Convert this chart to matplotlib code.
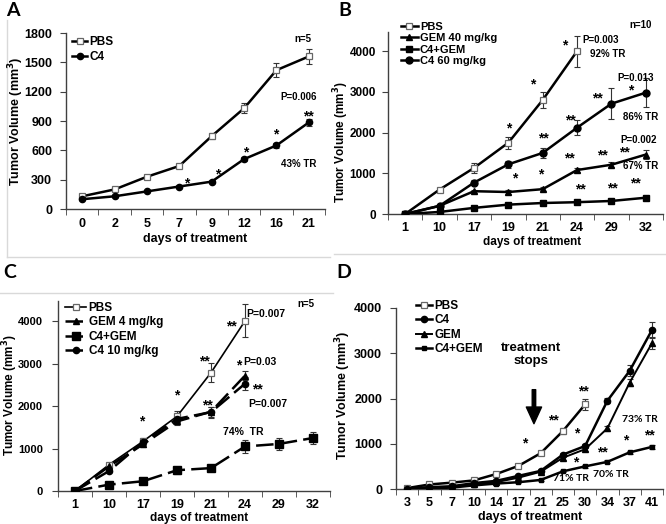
import matplotlib
matplotlib.use('Agg')
import matplotlib.pyplot as plt
from matplotlib.lines import Line2D
import numpy as np

plt.rcParams['font.family'] = ['Liberation Sans', 'DejaVu Sans']
plt.rcParams['font.weight'] = 'bold'
plt.rcParams['axes.labelweight'] = 'bold'

# ---------------- data ----------------
A_days = ['0', '2', '5', '7', '9', '12', '16', '21']
A_pbs = [130, 200, 330, 440, 745, 1030, 1420, 1560]
A_pbs_err = [20, 20, 20, 20, 30, 50, 70, 80]
A_c4 = [100, 130, 180, 230, 280, 510, 650, 885]
A_c4_err = [10, 10, 10, 15, 15, 20, 25, 40]

B_days = ['1', '10', '17', '19', '21', '24', '29', '32']
B_pbs = [0, 600, 1130, 1750, 2800, 4000]
B_pbs_err = [0, 40, 120, 150, 200, 380]
B_gem = [0, 200, 560, 540, 610, 1080, 1210, 1460]
B_gem_err = [0, 20, 40, 40, 50, 60, 60, 100]
B_combo = [0, 50, 150, 230, 270, 290, 320, 400]
B_combo_err = [0, 10, 15, 20, 20, 20, 25, 30]
B_c4 = [0, 200, 770, 1220, 1500, 2120, 2710, 2980]
B_c4_err = [0, 30, 60, 80, 130, 180, 380, 350]

C_days = ['1', '10', '17', '19', '21', '24', '29', '32']
C_pbs = [0, 620, 1170, 1760, 2790, 4010]
C_pbs_err = [0, 40, 80, 130, 220, 390]
C_gem = [0, 580, 1100, 1640, 1870, 2720]
C_gem_err = [0, 30, 60, 80, 120, 100]
C_combo = [0, 150, 230, 490, 540, 1050, 1110, 1250]
C_combo_err = [0, 20, 30, 80, 40, 150, 150, 150]
C_c4 = [0, 470, 1150, 1700, 1860, 2530]
C_c4_err = [0, 30, 60, 80, 130, 150]

D_days = ['3', '5', '7', '10', '14', '17', '21', '25', '30', '34', '37', '41']
D_pbs = [20, 100, 140, 190, 330, 510, 790, 1280, 1870]
D_pbs_err = [10, 10, 10, 20, 30, 30, 40, 60, 120]
D_c4 = [10, 40, 60, 130, 180, 290, 400, 760, 950, 1950, 2610, 3510]
D_c4_err = [5, 10, 10, 20, 20, 30, 40, 40, 50, 60, 120, 170]
D_gem = [10, 30, 50, 100, 150, 250, 380, 690, 880, 1340, 2350, 3220]
D_gem_err = [5, 10, 10, 20, 20, 30, 40, 40, 50, 60, 80, 130]
D_combo = [0, 20, 30, 80, 120, 150, 200, 390, 500, 600, 810, 930]
D_combo_err = [0, 5, 5, 10, 10, 15, 20, 20, 30, 30, 40, 50]

# annotations (x index, y value, text, size)
A_notes = [(6.82, 1739, 'n=5', 7), (6.7, 1145, 'P=0.006', 7), (6.7, 460, '43% TR', 7),
           (6.98, 950, '**', 10), (5.99, 765, '*', 10), (5.06, 580, '*', 10),
           (4.2, 355, '*', 10), (3.24, 265, '*', 10)]
B_notes = [(6.86, 4638, 'n=10', 7), (5.69, 4270, 'P=0.003', 7), (5.9, 3926, '92% TR', 7),
           (6.69, 3337, 'P=0.013', 7), (6.86, 2380, '86% TR', 7), (6.8, 1810, 'P=0.002', 7),
           (6.86, 1178, '67% TR', 7),
           (4.63, 4140, '*', 10), (3.72, 3180, '*', 10), (3.02, 2100, '*', 10),
           (6.57, 3030, '*', 10), (5.6, 2840, '**', 10), (4.81, 2300, '**', 10),
           (4.02, 1860, '**', 10), (6.38, 1510, '**', 10), (5.75, 1440, '**', 10),
           (4.78, 1370, '**', 10), (3.93, 970, '*', 10), (3.2, 870, '*', 10),
           (6.69, 755, '**', 10), (6.04, 630, '**', 10), (5.1, 605, '**', 10)]
C_notes = [(6.8, 4410, 'n=5', 7), (5.6, 4175, 'P=0.007', 7.5), (5.45, 3040, 'P=0.03', 7.5),
           (5.66, 2050, 'P=0.007', 7.5), (4.96, 1390, '74%  TR', 7.5),
           (4.6, 3880, '**', 10), (3.81, 3060, '**', 10), (2.99, 2250, '*', 10),
           (1.96, 1640, '*', 10), (4.81, 2960, '*', 10), (5.36, 2400, '**', 10),
           (3.9, 2020, '**', 10)]
D_notes = [(7.92, 2160, '**', 10), (6.56, 1520, '**', 10), (5.29, 1010, '*', 10),
           (7.6, 1230, '*', 10), (7.56, 590, '*', 10), (8.78, 815, '**', 10),
           (9.82, 1080, '*', 10), (10.9, 1190, '**', 10)]
D_tr = [(10.45, 1531, '73% TR'), (7.38, 227, '71% TR'), (9.14, 316, '70% TR')]

W, H = 666, 524
fig = plt.figure(figsize=(W / 100, H / 100), dpi=100)
fig.patch.set_facecolor('white')

AX = '#404040'


def make_axes(l, r, t, b):
    return fig.add_axes([l / W, 1 - b / H, (r - l) / W, (b - t) / H])


def ftext(x, y, s, **kw):
    fig.text(x / W, 1 - y / H, s, ha='center', va='center', **kw)


def style(ax, cats, ylim, yticks, ypad, xpad, xlab, ylab, ysize=9, xlsize=9, ylsize=9):
    n = len(cats)
    ax.set_xlim(-0.5, n - 0.5)
    ax.set_ylim(*ylim)
    ax.set_yticks(yticks)
    ax.set_xticks(range(n))
    ax.set_xticklabels(cats)
    ax.set_xticks(np.arange(n + 1) - 0.5, minor=True)
    ax.tick_params(axis='x', which='major', length=0, pad=xpad, labelsize=9)
    ax.tick_params(axis='x', which='minor', length=4, direction='out', color=AX)
    ax.tick_params(axis='y', which='major', length=4, direction='out', color=AX,
                   pad=ypad, labelsize=ysize)
    for s in ['top', 'right']:
        ax.spines[s].set_visible(False)
    for s in ['left', 'bottom']:
        ax.spines[s].set_color(AX)
        ax.spines[s].set_linewidth(1)
    ax.set_facecolor('none')
    ftext(xlab[0], xlab[1], 'days of treatment', fontsize=xlsize, fontweight='bold')
    ftext(ylab[0], ylab[1], 'Tumor Volume (mm$^\\mathbf{3}$)', fontsize=ylsize,
          fontweight='bold', rotation=90)


def series(ax, y, err, **kw):
    x = np.arange(len(y))
    ax.errorbar(x, y, yerr=err, fmt='none', ecolor='#333333', elinewidth=0.8,
                capsize=2.5, capthick=0.8, zorder=2)
    ax.plot(x, y, zorder=3, **kw)


def notes(ax, items):
    for x, y, s, fs in items:
        ax.text(x, y, s, ha='center', va='center', fontsize=fs, fontweight='bold')


def legend(ax, x_px, y_px, fs, hl, ls):
    ax.legend(loc='upper left', bbox_to_anchor=(x_px / W, 1 - y_px / H),
              bbox_transform=fig.transFigure, frameon=False,
              handlelength=hl, handletextpad=0.2, labelspacing=ls,
              borderpad=0, borderaxespad=0, numpoints=1,
              prop={'weight': 'bold', 'size': fs})


PBS_KW = dict(color='black', lw=1.8, marker='s', ms=5, mfc='white', mec='#666666', mew=0.9)

# ---------------- Panel A ----------------
axA = make_axes(66, 325, 33, 209)
series(axA, A_pbs, A_pbs_err, label='PBS', **PBS_KW)
series(axA, A_c4, A_c4_err, label='C4', color='black', lw=1.8, marker='o', ms=4.5)
style(axA, A_days, (0, 1800), range(0, 1801, 300), 6, 6.5, (195, 239), (16, 121))
notes(axA, A_notes)
legend(axA, 72, 36, 8.5, 1.3, 0.25)

# ---------------- Panel B ----------------
axB = make_axes(388, 663, 32, 214)
series(axB, B_pbs, B_pbs_err, label='PBS', **PBS_KW)
series(axB, B_gem, B_gem_err, label='GEM 40 mg/kg', color='black', lw=1.8, marker='^', ms=5)
series(axB, B_combo, B_combo_err, label='C4+GEM', color='black', lw=1.8, marker='s', ms=4.5)
series(axB, B_c4, B_c4_err, label='C4 60 mg/kg', color='black', lw=1.8, marker='o', ms=5)
style(axB, B_days, (0, 4470), range(0, 4001, 1000), 4.5, 5.5, (532, 242), (341, 142),
      ysize=8.5, xlsize=8.5, ylsize=8.5)
notes(axB, B_notes)
legend(axB, 401, 22, 8, 1.5, 0.12)

# ---------------- Panel C ----------------
axC = make_axes(58, 330, 301, 491)
DASH = (0, (7, 2.5))
series(axC, C_pbs, C_pbs_err, label='PBS', color='black', lw=1.2, marker='s', ms=5,
       mfc='white', mec='#666666', mew=0.9)
series(axC, C_gem, C_gem_err, label='GEM 4 mg/kg', color='black', lw=1.8, ls=DASH, marker='^', ms=5)
series(axC, C_combo, C_combo_err, label='C4+GEM', color='black', lw=1.8, ls=DASH, marker='s', ms=5.5)
series(axC, C_c4, C_c4_err, label='C4 10 mg/kg', color='black', lw=1.8, ls=DASH, marker='o', ms=4.5)
style(axC, C_days, (0, 4480), range(0, 4001, 1000), 7, 6, (199, 518), (10, 395),
      ysize=8, xlsize=8.5, ylsize=8.5)
notes(axC, C_notes)
legend(axC, 65, 302, 8.5, 1.8, 0.2)

# ---------------- Panel D ----------------
axD = make_axes(396, 663, 308, 489)
series(axD, D_pbs, D_pbs_err, label='PBS', **PBS_KW)
series(axD, D_c4, D_c4_err, label='C4', color='black', lw=1.8, marker='o', ms=4.5)
series(axD, D_gem, D_gem_err, label='GEM', color='black', lw=1.4, marker='^', ms=4.5)
series(axD, D_combo, D_combo_err, label='C4+GEM', color='black', lw=1.8, marker='s', ms=3)
style(axD, D_days, (0, 4000), range(0, 4001, 1000), 6, 6, (530, 517), (343, 395))
notes(axD, D_notes)
for x, y, s in D_tr:
    axD.text(x, y, s, ha='center', va='center', fontsize=7.5, fontweight='bold',
             family=['Lato', 'DejaVu Sans'])
axD.text(5.57, 2970, 'treatment\nstops', ha='center', va='center', fontsize=9.5,
         fontweight='bold', linespacing=1.1)
axD.annotate('', xy=(5.7, 1443), xytext=(5.7, 2195),
             arrowprops=dict(width=2.5, headwidth=11, headlength=12, color='black'))
legend(axD, 416, 300, 8.5, 1.35, 0.2)

# panel letters
for x, y, s in [(13, 10, 'A'), (345, 10, 'B'), (10, 273, 'C'), (344, 272, 'D')]:
    ftext(x, y, s, fontsize=14, fontweight='bold', family=['Lato', 'DejaVu Sans'])

# faint panel frames
LC = '#d9d9d9'
for (x1, y1, x2, y2) in [(7, 20, 7, 257), (7, 257, 330, 257), (334, 254, 666, 254),
                         (0, 293, 333, 293)]:
    fig.add_artist(Line2D([x1 / W, x2 / W], [1 - y1 / H, 1 - y2 / H],
                          transform=fig.transFigure, color=LC, lw=1))

fig.savefig('out.png', dpi=100, facecolor='white')
